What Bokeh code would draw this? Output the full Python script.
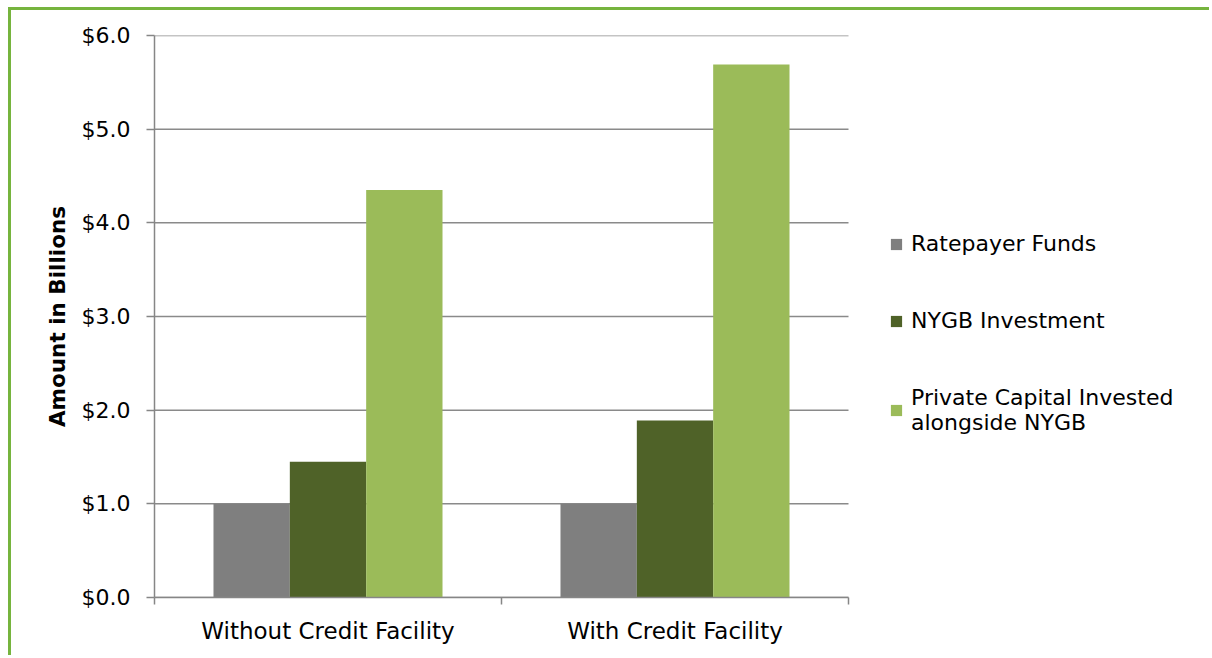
from bokeh.plotting import figure
from bokeh.models import (FixedTicker, NumeralTickFormatter, Legend, LegendItem,
                          Range1d, ColumnDataSource)
from bokeh.transform import dodge
from bokeh.embed import file_html
from bokeh.resources import INLINE

categories = ["Without Credit Facility", "With Credit Facility"]
cat_pos = [0.5, 1.5]
ratepayer = [1.0, 1.0]
nygb = [1.45, 1.89]
private = [4.35, 5.69]
series_names = ["Ratepayer Funds", "NYGB Investment", "Private Capital Invested\nalongside NYGB"]
colors = ["#7f7f7f", "#4f6228", "#9bbb59"]
y_ticks = [0, 1, 2, 3, 4, 5, 6]

FONT = "DejaVu Sans"
n_cat = len(categories)

src = ColumnDataSource(dict(x=cat_pos, r=ratepayer, n=nygb, p=private))

# frame spans the legend area too; plot elements are bounded to [0, n_cat]
p = figure(width=1201, height=648, output_backend="svg", toolbar_location=None,
           x_range=Range1d(0, n_cat * 1.5), y_range=Range1d(0, 6),
           min_border_left=143, min_border_right=17, min_border_top=25, min_border_bottom=61)
p.styles = {"border-top": "3px solid #76b43e", "border-left": "3px solid #76b43e",
            "margin-left": "8px", "margin-top": "7px"}
p.outline_line_color = None
p.background_fill_color = "white"
p.border_fill_color = "white"
p.xgrid.grid_line_color = None
p.ygrid.grid_line_color = None

# horizontal gridlines at the y ticks, limited to the category area
p.segment(x0=[0] * len(y_ticks), x1=[n_cat] * len(y_ticks), y0=y_ticks, y1=y_ticks,
          line_color="#8a8a8a", line_width=1.5)

bw = 0.22
r1 = p.vbar(x=dodge("x", -0.22, range=p.x_range), top="r", width=bw, source=src,
            fill_color=colors[0], line_color=None)
r2 = p.vbar(x=dodge("x", 0.0, range=p.x_range), top="n", width=bw, source=src,
            fill_color=colors[1], line_color=None)
r3 = p.vbar(x=dodge("x", 0.22, range=p.x_range), top="p", width=bw, source=src,
            fill_color=colors[2], line_color=None)

# x axis
p.xaxis.bounds = (0, n_cat)
p.xaxis.ticker = FixedTicker(ticks=cat_pos, minor_ticks=list(range(n_cat + 1)))
p.xaxis.major_label_overrides = {cat_pos[i]: categories[i] for i in range(n_cat)}
p.xaxis.major_tick_line_color = None
p.xaxis.minor_tick_line_color = "#868686"
p.xaxis.minor_tick_line_width = 1.5
p.xaxis.minor_tick_out = 7
p.xaxis.minor_tick_in = 0
p.xaxis.axis_line_color = "#868686"
p.xaxis.axis_line_width = 1.5
p.xaxis.major_label_text_font = FONT
p.xaxis.major_label_text_font_size = "23px"
p.xaxis.major_label_text_color = "black"
p.xaxis.major_label_standoff = 13

# y axis
p.yaxis.ticker = FixedTicker(ticks=y_ticks, minor_ticks=[])
p.yaxis.formatter = NumeralTickFormatter(format="$0.0")
p.yaxis.major_tick_out = 8
p.yaxis.major_tick_in = 0
p.yaxis.major_tick_line_color = "#868686"
p.yaxis.major_tick_line_width = 1.5
p.yaxis.axis_line_color = "#868686"
p.yaxis.axis_line_width = 1.5
p.yaxis.major_label_text_font = FONT
p.yaxis.major_label_text_font_size = "22px"
p.yaxis.major_label_text_color = "black"
p.yaxis.major_label_standoff = 16
p.yaxis.axis_label = "Amount in Billions"
p.yaxis.axis_label_text_font = FONT
p.yaxis.axis_label_text_font_size = "21.5px"
p.yaxis.axis_label_text_font_style = "bold"
p.yaxis.axis_label_text_color = "black"
p.yaxis.axis_label_standoff = 9

legend = Legend(items=[LegendItem(label=series_names[0], renderers=[r1]),
                       LegendItem(label=series_names[1], renderers=[r2]),
                       LegendItem(label=series_names[2], renderers=[r3])],
                location=(735, 162))
legend.border_line_color = None
legend.background_fill_alpha = 0
legend.label_text_font = FONT
legend.label_text_font_size = "22px"
legend.label_text_color = "black"
legend.glyph_width = 14
legend.glyph_height = 14
legend.spacing = 52
legend.label_standoff = 8
legend.padding = 0
legend.margin = 0
p.add_layout(legend, "center")

open("out.html", "w").write(file_html(p, INLINE))
